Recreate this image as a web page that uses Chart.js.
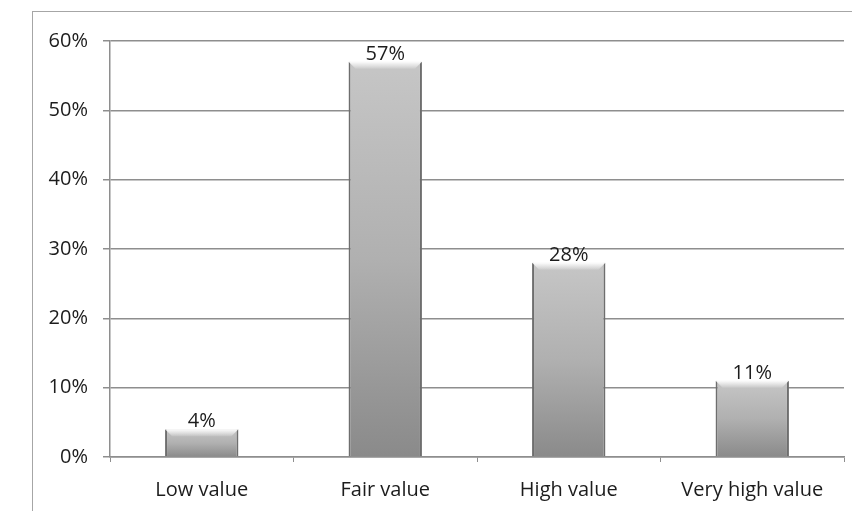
<!DOCTYPE html>
<html>
<head>
<meta charset="utf-8">
<script src="https://cdn.jsdelivr.net/npm/chart.js@4"></script>
<style>
  html, body { margin: 0; padding: 0; background: #fff; }
  #wrap { position: relative; width: 852px; height: 511px; overflow: hidden; }
  #frame { position: absolute; left: 32px; top: 11px; width: 900px; height: 600px;
           border-left: 1.5px solid #a6a6a6; border-top: 1.5px solid #a6a6a6; }
  canvas { position: absolute; left: 0; top: 0; }
</style>
</head>
<body>
<div id="wrap">
  <div id="frame"></div>
  <canvas id="chart" width="852" height="511"></canvas>
</div>
<script>
const categories = ['Low value', 'Fair value', 'High value', 'Very high value'];
const shares = [4, 57, 28, 11];
const yTicks = [0, 10, 20, 30, 40, 50, 60];

const FONT = '"Open Sans", sans-serif';
const TEXT = '#1c1c1c';
const GRID = '#8e8e8e';

// gradient for each bar, light on top and darker at the base
function barFill(ctx) {
  const chart = ctx.chart;
  if (!chart.chartArea) return '#aaaaaa';
  const y = chart.scales.y;
  const top = y.getPixelForValue(ctx.raw);
  const base = y.getPixelForValue(0);
  const g = chart.ctx.createLinearGradient(0, top, 0, base);
  g.addColorStop(0, '#c6c6c6');
  g.addColorStop(0.5, '#b0b0b0');
  g.addColorStop(1, '#8a8a8a');
  return g;
}

// bevel on the top of bars + value labels
const barExtras = {
  id: 'barExtras',
  afterDatasetsDraw(chart) {
    const c = chart.ctx;
    const meta = chart.getDatasetMeta(0);
    c.save();
    meta.data.forEach((bar, i) => {
      const half = bar.width / 2;
      const l = bar.x - half, r = bar.x + half, t = bar.y;
      const g = c.createLinearGradient(0, t, 0, t + 7);
      g.addColorStop(0, 'rgba(255,255,255,0.95)');
      g.addColorStop(1, 'rgba(255,255,255,0.1)');
      c.beginPath();
      c.moveTo(l, t);
      c.lineTo(r, t);
      c.lineTo(r - 7, t + 7);
      c.lineTo(l + 7, t + 7);
      c.closePath();
      c.fillStyle = g;
      c.fill();
      c.fillStyle = TEXT;
      c.font = '20px ' + FONT;
      c.textAlign = 'center';
      c.textBaseline = 'alphabetic';
      c.fillText(shares[i] + '%', bar.x, t - 2);
    });
    c.restore();
  }
};

new Chart(document.getElementById('chart'), {
  type: 'bar',
  data: {
    labels: categories,
    datasets: [{
      data: shares,
      backgroundColor: barFill,
      borderColor: '#6e6e6e',
      borderWidth: { left: 2, right: 2, top: 0, bottom: 0 },
      borderSkipped: false,
      barPercentage: 0.8,
      categoryPercentage: 0.5
    }]
  },
  options: {
    responsive: false,
    animation: false,
    layout: { padding: { top: 41, right: 8, left: 0, bottom: 0 } },
    plugins: { legend: { display: false }, tooltip: { enabled: false } },
    scales: {
      x: {
        grid: { display: true, drawOnChartArea: false, color: GRID, tickLength: 5, offset: true },
        border: { display: true, color: GRID, width: 1.5 },
        ticks: { color: TEXT, font: { family: FONT, size: 20 }, padding: 16, maxRotation: 0 },
        afterFit(s) { s.height = 54; }
      },
      y: {
        min: 0,
        max: 60,
        afterBuildTicks(s) { s.ticks = yTicks.map(v => ({ value: v })); },
        grid: { color: GRID, lineWidth: 1.5, tickLength: 7 },
        border: { display: true, color: GRID, width: 1.5 },
        ticks: { color: TEXT, font: { family: FONT, size: 20 }, padding: 15,
                 callback: v => v + '%' },
        afterFit(s) { s.width = 110; }
      }
    }
  },
  plugins: [barExtras]
});
</script>
</body>
</html>
